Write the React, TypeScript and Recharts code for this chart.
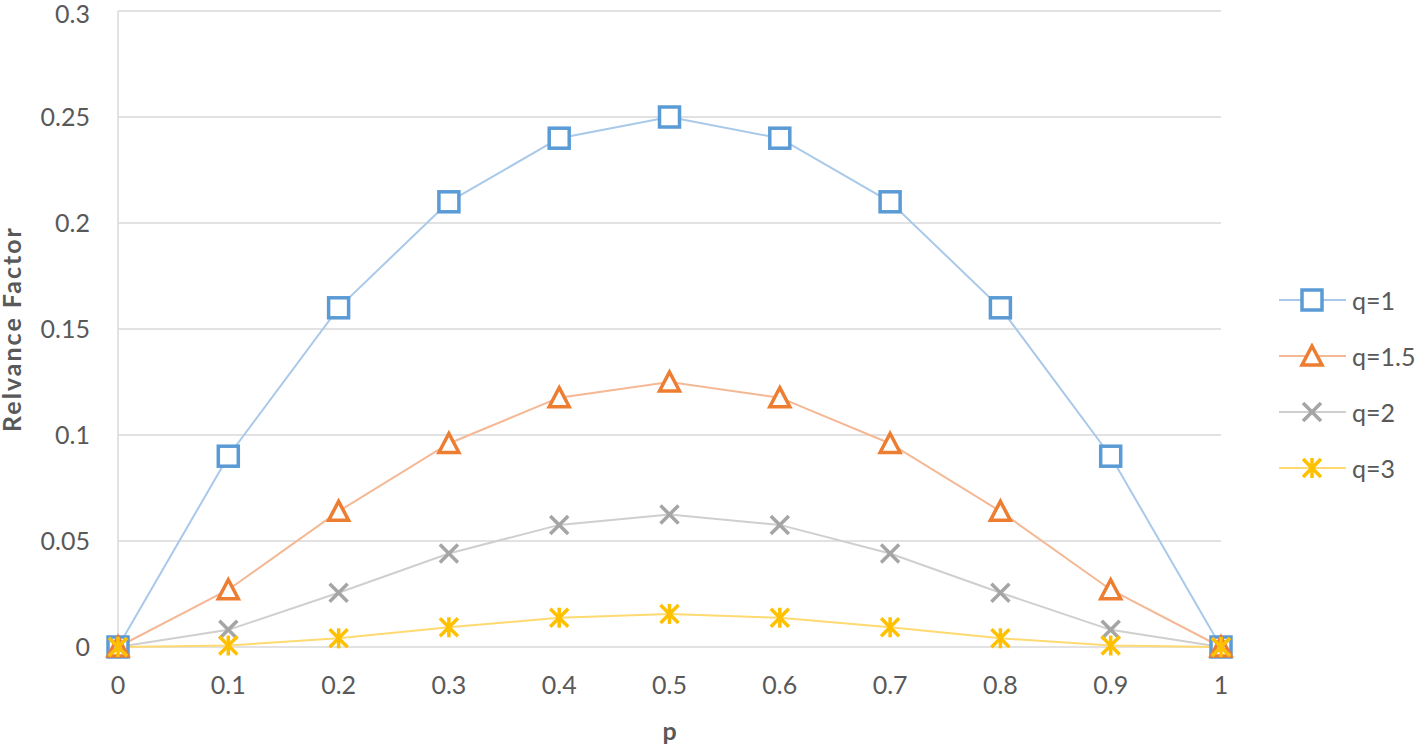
import React from 'react';
import { LineChart, Line, XAxis, YAxis, CartesianGrid } from 'recharts';

const pValues = [0, 0.1, 0.2, 0.3, 0.4, 0.5, 0.6, 0.7, 0.8, 0.9, 1];
const q1Values = [0, 0.09, 0.16, 0.21, 0.24, 0.25, 0.24, 0.21, 0.16, 0.09, 0];
const q15Values = [0, 0.027, 0.064, 0.096, 0.1176, 0.125, 0.1176, 0.096, 0.064, 0.027, 0];
const q2Values = [0, 0.0081, 0.0256, 0.0441, 0.0576, 0.0625, 0.0576, 0.0441, 0.0256, 0.0081, 0];
const q3Values = [0, 0.0007, 0.0041, 0.0093, 0.0138, 0.0156, 0.0138, 0.0093, 0.0041, 0.0007, 0];
const xTicks = [0, 0.1, 0.2, 0.3, 0.4, 0.5, 0.6, 0.7, 0.8, 0.9, 1];
const yTicks = [0, 0.05, 0.1, 0.15, 0.2, 0.25, 0.3];

const data = pValues.map((p, i) => ({
  p,
  q1: q1Values[i],
  q15: q15Values[i],
  q2: q2Values[i],
  q3: q3Values[i],
}));

const FONT = 'Lato, "Open Sans", sans-serif';
const TEXT = '#595959';
const FS = 25;

type Kind = 'square' | 'triangle' | 'x' | 'star';

const Marker = ({ kind, cx, cy, color }: { kind: Kind; cx: number; cy: number; color: string }) => {
  if (kind === 'square') {
    return <rect x={cx - 10} y={cy - 10} width={20} height={20} fill="#fff" stroke={color} strokeWidth={3.5} />;
  }
  if (kind === 'triangle') {
    return (
      <polygon
        points={`${cx},${cy - 10} ${cx + 10},${cy + 9} ${cx - 10},${cy + 9}`}
        fill="#fff"
        stroke={color}
        strokeWidth={3.5}
        strokeLinejoin="miter"
      />
    );
  }
  if (kind === 'x') {
    return (
      <g stroke={color} strokeWidth={3.5}>
        <line x1={cx - 9} y1={cy - 9} x2={cx + 9} y2={cy + 9} />
        <line x1={cx - 9} y1={cy + 9} x2={cx + 9} y2={cy - 9} />
      </g>
    );
  }
  return (
    <g stroke={color} strokeWidth={3.5}>
      <line x1={cx - 9} y1={cy - 9} x2={cx + 9} y2={cy + 9} />
      <line x1={cx - 9} y1={cy + 9} x2={cx + 9} y2={cy - 9} />
      <line x1={cx} y1={cy - 10} x2={cx} y2={cy + 10} />
    </g>
  );
};

const series = [
  { key: 'q1', name: 'q=1', kind: 'square' as Kind, marker: '#5B9BD5', line: '#A9C9EA' },
  { key: 'q15', name: 'q=1.5', kind: 'triangle' as Kind, marker: '#ED7D31', line: '#F5B895' },
  { key: 'q2', name: 'q=2', kind: 'x' as Kind, marker: '#A5A5A5', line: '#CFCFCF' },
  { key: 'q3', name: 'q=3', kind: 'star' as Kind, marker: '#FFC000', line: '#FFDA70' },
];

const LegendBox = () => (
  <div
    style={{
      position: 'absolute',
      left: 1279,
      top: 272,
      fontFamily: FONT,
      fontSize: FS,
      color: TEXT,
      whiteSpace: 'nowrap',
    }}
  >
    {series.map((s) => (
      <div key={s.key} style={{ display: 'flex', alignItems: 'center', height: 56 }}>
        <svg width={68} height={26} style={{ display: 'block' }}>
          <line x1={0} y1={13} x2={67} y2={13} stroke={s.line} strokeWidth={2} />
          <Marker kind={s.kind} cx={33} cy={13} color={s.marker} />
        </svg>
        <span style={{ marginLeft: 5, lineHeight: 1 }}>{s.name}</span>
      </div>
    ))}
  </div>
);

export default function App() {
  return (
    <div style={{ position: 'absolute', left: 0, top: 0, width: 1418, height: 746, background: '#fff', overflow: 'hidden' }}>
      <LineChart width={1418} height={746} data={data} margin={{ top: 11, right: 197, bottom: 0, left: 0 }}>
        <CartesianGrid horizontal vertical={false} stroke="#D9D9D9" strokeWidth={1.5} />
        <XAxis
          dataKey="p"
          type="number"
          domain={[0, 1]}
          ticks={xTicks}
          height={99}
          axisLine={false}
          tickLine={false}
          tickSize={6}
          tickMargin={23}
          tick={{ fill: TEXT, fontSize: FS, fontFamily: FONT }}
          label={{
            content: ({ viewBox }: any) => (
              <text
                x={viewBox.x + viewBox.width / 2}
                y={740}
                textAnchor="middle"
                fontFamily={FONT}
                fontSize={FS}
                fontWeight="bold"
                fill={TEXT}
              >
                p
              </text>
            ),
          }}
        />
        <YAxis
          type="number"
          domain={[0, 0.3]}
          ticks={yTicks}
          width={118}
          axisLine={{ stroke: '#D9D9D9', strokeWidth: 1.5 }}
          tickLine={false}
          tickSize={5}
          tickMargin={23}
          tick={{ fill: TEXT, fontSize: FS, fontFamily: FONT }}
          label={{
            content: ({ viewBox }: any) => {
              const cy = viewBox.y + viewBox.height / 2;
              return (
                <text
                  x={21}
                  y={cy}
                  transform={`rotate(-90, 21, ${cy})`}
                  textAnchor="middle"
                  fontFamily={FONT}
                  fontSize={FS}
                  fontWeight="bold"
                  letterSpacing={2}
                  fill={TEXT}
                >
                  Relvance Factor
                </text>
              );
            },
          }}
        />
        {series.map((s) => (
          <Line
            key={s.key}
            dataKey={s.key}
            name={s.name}
            stroke={s.line}
            strokeWidth={2}
            isAnimationActive={false}
            dot={(props: any) => (
              <Marker key={`${s.key}-${props.index}`} kind={s.kind} cx={props.cx} cy={props.cy} color={s.marker} />
            )}
            activeDot={false}
          />
        ))}
      </LineChart>
      <LegendBox />
    </div>
  );
}
